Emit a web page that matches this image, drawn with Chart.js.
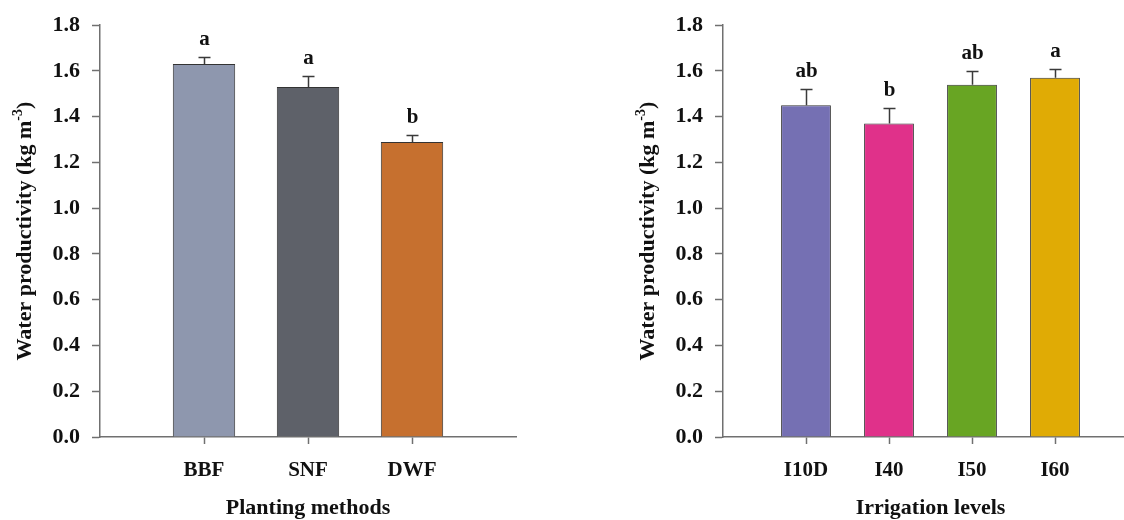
<!DOCTYPE html>
<html lang="en">
<head>
    <meta charset="UTF-8">
    <title>Water productivity by planting method and irrigation level</title>
    <script src="https://cdn.jsdelivr.net/npm/chart.js"></script>
    <style>
        html, body {
            margin: 0;
            padding: 0;
            background: #fff;
            overflow: hidden;
        }
        .stage {
            position: relative;
            width: 1124px;
            height: 520px;
        }
        #methods { position: absolute; left: 0; top: 0; }
        #levels { position: absolute; left: 560px; top: 0; }
    </style>
</head>
<body>
<div class="stage">
    <canvas id="methods" width="560" height="520"></canvas>
    <canvas id="levels" width="600" height="520"></canvas>
</div>
<script>
    // left panel: planting methods
    const methodLabels = ['BBF', 'SNF', 'DWF'];
    const methodWP = [1.63, 1.53, 1.29];
    const methodSE = [0.03, 0.05, 0.03];
    const methodLetters = ['a', 'a', 'b'];
    const methodColors = ['#8e97ae', '#5e6169', '#c6702f'];

    // right panel: irrigation levels
    const levelLabels = ['I10D', 'I40', 'I50', 'I60'];
    const levelWP = [1.45, 1.37, 1.54, 1.57];
    const levelSE = [0.07, 0.07, 0.06, 0.04];
    const levelLetters = ['ab', 'b', 'ab', 'a'];
    const levelColors = ['#7570b3', '#e0318a', '#68a523', '#e0ab05'];

    const yTickValues = [0, 0.2, 0.4, 0.6, 0.8, 1.0, 1.2, 1.4, 1.6, 1.8];

    const SERIF = '"Liberation Serif", "Times New Roman", serif';
    const AXIS = '#707070';

    // error bars, significance letters and axis titles
    const extras = {
        id: 'extras',
        afterDatasetsDraw(chart, args, o) {
            const { ctx, chartArea } = chart;
            const x = chart.scales.x, y = chart.scales.y;
            ctx.save();
            ctx.strokeStyle = '#3a3a3a';
            ctx.lineWidth = 1.5;
            ctx.fillStyle = '#111';
            ctx.textAlign = 'center';
            ctx.textBaseline = 'alphabetic';
            o.values.forEach((v, i) => {
                const px = Math.round(x.getPixelForValue(i + 1)) + 0.5;
                const y0 = y.getPixelForValue(v);
                const y1 = Math.round(y.getPixelForValue(v + o.errors[i])) + 0.5;
                ctx.beginPath();
                ctx.moveTo(px, y0);
                ctx.lineTo(px, y1);
                ctx.moveTo(px - 6, y1);
                ctx.lineTo(px + 6, y1);
                ctx.stroke();
                ctx.font = 'bold 21px ' + SERIF;
                ctx.fillText(o.letters[i], px, y1 - 13);
            });

            // x title
            ctx.font = 'bold 22px ' + SERIF;
            ctx.fillText(o.xTitle, (chartArea.left + chartArea.right) / 2, 514);

            // y title with superscript
            const main = 'Water productivity (kg m';
            const sup = '-3';
            const close = ')';
            ctx.font = 'bold 22px ' + SERIF;
            const wMain = ctx.measureText(main).width;
            const wClose = ctx.measureText(close).width;
            ctx.font = 'bold 14px ' + SERIF;
            const wSup = ctx.measureText(sup).width;
            const total = wMain + wSup + wClose;
            ctx.translate(chartArea.left - 76, (chartArea.top + chartArea.bottom) / 2);
            ctx.rotate(-Math.PI / 2);
            ctx.textAlign = 'left';
            let sx = -total / 2;
            ctx.font = 'bold 22px ' + SERIF;
            ctx.fillText(main, sx, 7);
            sx += wMain;
            ctx.font = 'bold 14px ' + SERIF;
            ctx.fillText(sup, sx, -2);
            sx += wSup;
            ctx.font = 'bold 22px ' + SERIF;
            ctx.fillText(close, sx, 7);
            ctx.restore();
        }
    };

    function makeChart(id, labels, values, errors, letters, colors, xTitle, yWidth, padRight) {
        const ctx = document.getElementById(id).getContext('2d');
        return new Chart(ctx, {
            type: 'bar',
            data: {
                datasets: [{
                    data: values.map((v, i) => ({ x: i + 1, y: v })),
                    backgroundColor: colors,
                    borderColor: '#333',
                    borderWidth: 1,
                    barPercentage: 0.6,
                    categoryPercentage: 1.0
                }]
            },
            options: {
                responsive: false,
                animation: false,
                devicePixelRatio: 1,
                layout: { padding: { left: 0, top: 23, right: padRight, bottom: 0 } },
                plugins: {
                    legend: { display: false },
                    tooltip: { enabled: false },
                    extras: { values: values, errors: errors, letters: letters, xTitle: xTitle }
                },
                scales: {
                    x: {
                        type: 'linear',
                        min: 0,
                        max: labels.length + 1,
                        offset: false,
                        afterBuildTicks: (s) => { s.ticks = labels.map((_, i) => ({ value: i + 1 })); },
                        afterFit: (s) => { s.height = 83; },
                        grid: { display: true, drawOnChartArea: false, drawTicks: true, tickLength: 7, tickWidth: 1.5, color: AXIS, offset: false },
                        border: { display: true, color: AXIS, width: 1.5 },
                        ticks: {
                            autoSkip: false,
                            maxRotation: 0,
                            padding: 14,
                            color: '#111',
                            font: { family: SERIF, size: 21, weight: 'bold' },
                            callback: (v) => labels[v - 1]
                        }
                    },
                    y: {
                        min: 0,
                        max: 1.8,
                        afterBuildTicks: (s) => { s.ticks = yTickValues.map((v) => ({ value: v })); },
                        afterFit: (s) => { s.width = yWidth; },
                        grid: { display: true, drawOnChartArea: false, drawTicks: true, tickLength: 8, tickWidth: 1.5, color: AXIS },
                        border: { display: true, color: AXIS, width: 1.5 },
                        ticks: {
                            padding: 12,
                            color: '#111',
                            font: { family: SERIF, size: 22, weight: 'bold' },
                            callback: (v) => v.toFixed(1)
                        }
                    }
                }
            },
            plugins: [extras]
        });
    }

    makeChart('methods', methodLabels, methodWP, methodSE, methodLetters, methodColors, 'Planting methods', 100, 44);
    makeChart('levels', levelLabels, levelWP, levelSE, levelLetters, levelColors, 'Irrigation levels', 163, 22);
</script>
</body>
</html>
